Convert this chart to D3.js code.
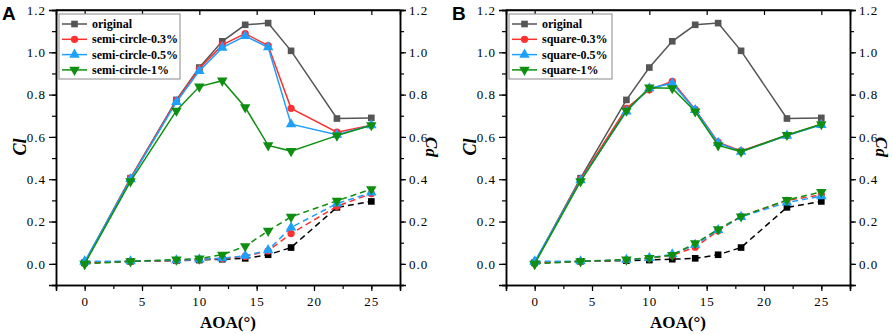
<!DOCTYPE html>
<html>
<head>
<meta charset="utf-8">
<script src="https://cdn.jsdelivr.net/npm/d3@7"></script>
<style>
    body { margin: 0; background: #fff; }
    svg { display: block; }
</style>
</head>
<body>
<div id="chart"></div>
<script>
// angle of attack, shared by every series
const aoa = [0, 4, 8, 10, 12, 14, 16, 18, 22, 25];

// lift coefficient
const clOriginal = [0.005, 0.405, 0.775, 0.928, 1.052, 1.13, 1.138, 1.007, 0.687, 0.69];
const clSemi03 = [0.005, 0.405, 0.772, 0.922, 1.035, 1.088, 1.032, 0.735, 0.622, 0.655];
const clSemi05 = [0.01, 0.40, 0.765, 0.912, 1.022, 1.077, 1.024, 0.66, 0.61, 0.655];
const clSemi1 = [0.0, 0.39, 0.724, 0.838, 0.866, 0.74, 0.56, 0.533, 0.606, 0.655];
const clSquare03 = [0.005, 0.40, 0.735, 0.823, 0.862, 0.73, 0.575, 0.534, 0.607, 0.66];
const clSquare05 = [0.01, 0.395, 0.72, 0.83, 0.853, 0.727, 0.572, 0.53, 0.606, 0.657];
const clSquare1 = [0.0, 0.39, 0.724, 0.833, 0.83, 0.72, 0.56, 0.53, 0.609, 0.66];

// drag coefficient
const cdOriginal = [0.005, 0.012, 0.015, 0.018, 0.022, 0.026, 0.043, 0.077, 0.267, 0.295];
const cdSemi03 = [0.005, 0.012, 0.015, 0.02, 0.025, 0.035, 0.061, 0.143, 0.272, 0.332];
const cdSemi05 = [0.012, 0.012, 0.017, 0.021, 0.027, 0.038, 0.065, 0.172, 0.285, 0.337];
const cdSemi1 = [0.0, 0.012, 0.02, 0.025, 0.043, 0.083, 0.156, 0.222, 0.298, 0.353];
const cdSquare03 = [0.005, 0.012, 0.018, 0.027, 0.04, 0.079, 0.157, 0.224, 0.30, 0.326];
const cdSquare05 = [0.012, 0.012, 0.019, 0.028, 0.045, 0.09, 0.16, 0.222, 0.29, 0.32];
const cdSquare1 = [0.0, 0.012, 0.02, 0.028, 0.042, 0.097, 0.163, 0.224, 0.302, 0.34];

const xTicks = [0, 5, 10, 15, 20, 25];
const yTicks = [0.0, 0.2, 0.4, 0.6, 0.8, 1.0, 1.2];

const panels = [
    {
        letter: "A", left: 56,
        names: ["original", "semi-circle-0.3%", "semi-circle-0.5%", "semi-circle-1%"],
        cl: [clOriginal, clSemi03, clSemi05, clSemi1],
        cd: [cdOriginal, cdSemi03, cdSemi05, cdSemi1],
        legendWidth: 121
    },
    {
        letter: "B", left: 506,
        names: ["original", "square-0.3%", "square-0.5%", "square-1%"],
        cl: [clOriginal, clSquare03, clSquare05, clSquare1],
        cd: [cdOriginal, cdSquare03, cdSquare05, cdSquare1],
        legendWidth: 103
    }
];

const clColors = ["#555555", "#ff3030", "#1ea0ff", "#0f8f0f"];
const cdColors = ["#000000", "#ff3030", "#1ea0ff", "#0f8f0f"];
const symbols = [d3.symbolSquare, d3.symbolCircle, d3.symbolTriangle, d3.symbolTriangle];
const symbolSizes = [44, 42, 48, 48];
const symbolRotate = [0, 0, 0, 180];

const W = 892, H = 334;
const plotW = 344, plotTop = 10, plotBottom = 285;
const SERIF = "'Liberation Serif', 'Times New Roman', serif";

const svg = d3.select("#chart").append("svg")
    .attr("width", W)
    .attr("height", H);

panels.forEach(p => drawPanel(p));

function drawPanel(p) {
    const g = svg.append("g").attr("transform", `translate(${p.left}, 0)`);

    const x = d3.scaleLinear().domain([-2.5, 27.5]).range([0, plotW]);
    const y = d3.scaleLinear().domain([-0.1, 1.2]).range([plotBottom, plotTop]);

    const minorX = d3.range(-2.5, 27.6, 2.5);
    const minorY = d3.range(-0.1, 1.21, 0.1);

    // bottom axis
    const bx = g.append("g")
        .attr("transform", `translate(0, ${plotBottom})`)
        .call(d3.axisBottom(x).tickValues(minorX).tickSize(4).tickFormat(""));
    bx.append("g").call(d3.axisBottom(x).tickValues(xTicks).tickSize(6).tickPadding(6).tickFormat(d3.format("d")));

    // top axis, ticks pointing into the plot
    g.append("g")
        .attr("transform", `translate(0, ${plotTop})`)
        .call(d3.axisBottom(x).tickValues(minorX.filter(v => v % 5 === 0)).tickSize(5).tickFormat(""));

    // left axis for Cl
    const ly = g.append("g")
        .call(d3.axisLeft(y).tickValues(minorY).tickSize(4).tickFormat(""));
    ly.append("g").call(d3.axisLeft(y).tickValues(yTicks).tickSize(7).tickPadding(3).tickFormat(d3.format(".1f")));

    // right axis for Cd
    const ry = g.append("g")
        .attr("transform", `translate(${plotW}, 0)`)
        .call(d3.axisRight(y).tickValues(minorY).tickSize(4).tickFormat(""));
    ry.append("g").call(d3.axisRight(y).tickValues(yTicks).tickSize(6).tickPadding(3).tickFormat(d3.format(".1f")));

    // top frame line
    g.append("line")
        .attr("x1", 0).attr("x2", plotW)
        .attr("y1", plotTop).attr("y2", plotTop)
        .attr("stroke", "#000").attr("stroke-width", 1.5);

    g.selectAll(".domain").attr("stroke", "#000").attr("stroke-width", 1.5);
    g.selectAll(".tick line").attr("stroke", "#000").attr("stroke-width", 1.2);
    g.selectAll(".tick text")
        .attr("fill", "#000")
        .style("font-family", SERIF)
        .style("font-size", "13px")
        .style("letter-spacing", "1px");

    const line = vals => d3.line()
        .x((d, i) => x(aoa[i]))
        .y(d => y(d))(vals);

    // Cd first (dashed), then Cl (solid)
    p.cd.forEach((vals, s) => {
        g.append("path")
            .attr("d", line(vals))
            .attr("fill", "none")
            .attr("stroke", cdColors[s])
            .attr("stroke-width", 1.5)
            .attr("stroke-dasharray", "6,4");
        drawMarkers(g, vals, s, cdColors[s], x, y);
    });
    p.cl.forEach((vals, s) => {
        g.append("path")
            .attr("d", line(vals))
            .attr("fill", "none")
            .attr("stroke", clColors[s])
            .attr("stroke-width", 1.5);
        drawMarkers(g, vals, s, clColors[s], x, y);
    });

    // legend
    const lg = g.append("g").attr("transform", `translate(3, 14)`);
    lg.append("rect")
        .attr("width", p.legendWidth)
        .attr("height", 65)
        .attr("fill", "#fff")
        .attr("stroke", "#888")
        .attr("stroke-width", 1);
    p.names.forEach((name, s) => {
        const ry0 = 10 + s * 15.3;
        lg.append("line")
            .attr("x1", 3).attr("x2", 28)
            .attr("y1", ry0).attr("y2", ry0)
            .attr("stroke", clColors[s])
            .attr("stroke-width", 1.5);
        lg.append("path")
            .attr("d", d3.symbol().type(symbols[s]).size(symbolSizes[s])())
            .attr("transform", `translate(15.5, ${ry0}) rotate(${symbolRotate[s]})`)
            .attr("fill", clColors[s]);
        lg.append("text")
            .attr("x", 33)
            .attr("y", ry0 + 4)
            .style("font-family", SERIF)
            .style("font-weight", "bold")
            .style("font-size", "12px")
            .text(name);
    });

    // axis titles
    g.append("text")
        .attr("x", plotW / 2)
        .attr("y", 328)
        .attr("text-anchor", "middle")
        .style("font-family", SERIF)
        .style("font-weight", "bold")
        .style("font-size", "17px")
        .text("AOA(°)");

    g.append("text")
        .attr("transform", `translate(-30, 147) rotate(-90)`)
        .attr("text-anchor", "middle")
        .style("font-family", SERIF)
        .style("font-weight", "bold")
        .style("font-style", "italic")
        .style("font-size", "18px")
        .text("Cl");

    g.append("text")
        .attr("transform", `translate(${plotW + 26}, 147) rotate(90)`)
        .attr("text-anchor", "middle")
        .style("font-family", SERIF)
        .style("font-weight", "bold")
        .style("font-style", "italic")
        .style("font-size", "17px")
        .text("Cd");

    // panel letter
    svg.append("text")
        .attr("x", p.left - 54)
        .attr("y", 20)
        .style("font-family", "'Liberation Sans', Arial, sans-serif")
        .style("font-weight", "bold")
        .style("font-size", "19px")
        .text(p.letter);
}

function drawMarkers(g, vals, s, color, x, y) {
    g.selectAll(null)
        .data(vals)
        .enter()
        .append("path")
        .attr("d", d3.symbol().type(symbols[s]).size(symbolSizes[s])())
        .attr("transform", (d, i) => `translate(${x(aoa[i])}, ${y(d)}) rotate(${symbolRotate[s]})`)
        .attr("fill", color);
}
</script>
</body>
</html>
